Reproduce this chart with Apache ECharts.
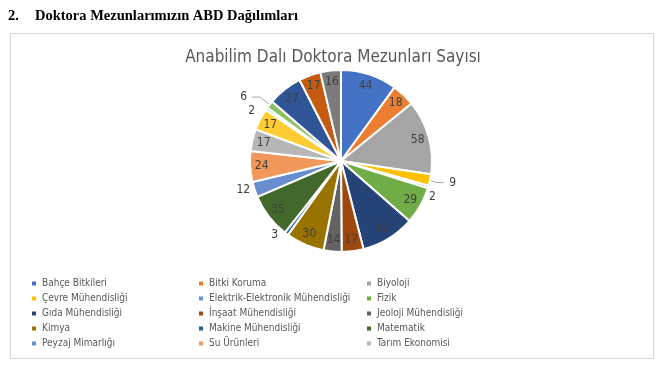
<!DOCTYPE html>
<html>
<head>
    <meta charset="utf-8">
    <title>ECharts</title>
    <script src="https://cdn.jsdelivr.net/npm/echarts@6/dist/echarts.min.js"></script>
    <style>
        html, body { margin: 0; padding: 0; background: #fff; }
    </style>
</head>
<body>
    <div id="main" style="width: 666px;height:369px;"></div>
    <script type="text/javascript">
        // veriler (okunan degerler)
        var bolumler = [
            'Bahçe Bitkileri', 'Bitki Koruma', 'Biyoloji',
            'Çevre Mühendisliği', 'Elektrik-Elektronik Mühendisliği', 'Fizik',
            'Gıda Mühendisliği', 'İnşaat Mühendisliği', 'Jeoloji Mühendisliği',
            'Kimya', 'Makine Mühendisliği', 'Matematik',
            'Peyzaj Mimarlığı', 'Su Ürünleri', 'Tarım Ekonomisi',
            // legendde gorunmeyenler
            'Tarım Makinaları', 'Tarımsal Biyoteknoloji', 'Tarımsal Yapılar ve Sulama',
            'Tarla Bitkileri', 'Toprak Bilimi ve Bitki Besleme', 'Zootekni'
        ];
        var mezunSayisi = [44, 18, 58, 9, 2, 29, 42, 17, 14, 30, 3, 35, 12, 24, 17, 17, 2, 6, 27, 17, 16];
        var legendeGorunen = 15;

        var renkler = ['#4472C4', '#ED7D31', '#A5A5A5', '#FFC000', '#5B9BD5', '#70AD47',
                       '#264478', '#9E480E', '#636363', '#997300', '#255E91', '#43682B',
                       '#698ED0', '#F1975A', '#B7B7B7', '#FFCD33', '#7CAFDD', '#8CC168',
                       '#2F5597', '#C55A11', '#7B7B7B'];

        var font = "'Liberation Sans Narrow', 'DejaVu Sans Condensed', 'Liberation Sans', sans-serif";
        var kucukSinir = 13; // bundan kucuk dilimlerin etiketi disarida
        var cizgiliEtiket = [3, 17]; // kilavuz cizgisi olan dilimler

        var pastaVeri = [], halkaVeri = [];
        for (var i = 0; i < bolumler.length; i++) {
            var kucuk = mezunSayisi[i] < kucukSinir;
            var cizgili = cizgiliEtiket.indexOf(i) >= 0;
            pastaVeri.push({
                name: bolumler[i], value: mezunSayisi[i],
                itemStyle: { color: renkler[i] },
                label: { show: kucuk },
                labelLine: cizgili ? { show: true, length: 12, length2: 8 } : { show: false }
            });
            halkaVeri.push({
                name: bolumler[i], value: mezunSayisi[i],
                label: { show: !kucuk }
            });
        }

        // legend 3 sutun
        var sutunlar = [[], [], []];
        for (var j = 0; j < legendeGorunen; j++) sutunlar[j % 3].push(bolumler[j]);
        var sutunX = [30, 197, 365];
        var legendler = sutunlar.map(function (d, k) {
            return {
                data: d, orient: 'vertical', left: sutunX[k], top: 277,
                icon: 'rect', itemWidth: 6, itemHeight: 6, itemGap: 2,
                padding: 0, selectedMode: false,
                textStyle: { color: '#595959', fontSize: 10, fontFamily: font, lineHeight: 13 }
            };
        });

        var myChart = echarts.init(document.getElementById('main'));

        var option = {
            animation: false,
            title: {
                text: 'Anabilim Dalı Doktora Mezunları Sayısı',
                left: 'center', top: 44,
                textStyle: { color: '#595959', fontSize: 17, fontWeight: 'normal', fontFamily: font }
            },
            legend: legendler,
            graphic: [
                { type: 'rect', shape: { x: 10.5, y: 33.5, width: 643, height: 325 },
                  style: { fill: 'none', stroke: '#d9d9d9', lineWidth: 1 }, z: -1 },
                { type: 'text', left: 8, top: 9,
                  style: { text: '2.', fontFamily: "'Liberation Serif', serif", fontWeight: 'bold', fontSize: 14.5, fill: '#000' } },
                { type: 'text', left: 35, top: 9,
                  style: { text: 'Doktora Mezunlarımızın ABD Dağılımları', fontFamily: "'Liberation Serif', serif", fontWeight: 'bold', fontSize: 14.5, fill: '#000' } }
            ],
            series: [{
                name: 'dilimler',
                type: 'pie',
                center: [341, 161],
                radius: [0, 91],
                startAngle: 90,
                avoidLabelOverlap: true,
                itemStyle: { borderColor: '#fff', borderWidth: 2 },
                label: {
                    position: 'outside', color: '#404040', fontSize: 12, fontFamily: font,
                    formatter: '{c}'
                },
                labelLine: { show: false, length: 2, length2: 2, lineStyle: { color: '#a6a6a6', width: 1 } },
                data: pastaVeri
            }, {
                name: 'etiketler',
                type: 'pie',
                center: [341, 161],
                radius: [62, 91],
                startAngle: 90,
                silent: true,
                itemStyle: { color: 'rgba(0,0,0,0)' },
                label: {
                    position: 'inside', color: '#404040', fontSize: 12, fontFamily: font,
                    formatter: '{c}'
                },
                labelLine: { show: false },
                data: halkaVeri
            }]
        };

        myChart.setOption(option);
    </script>
</body>
</html>
